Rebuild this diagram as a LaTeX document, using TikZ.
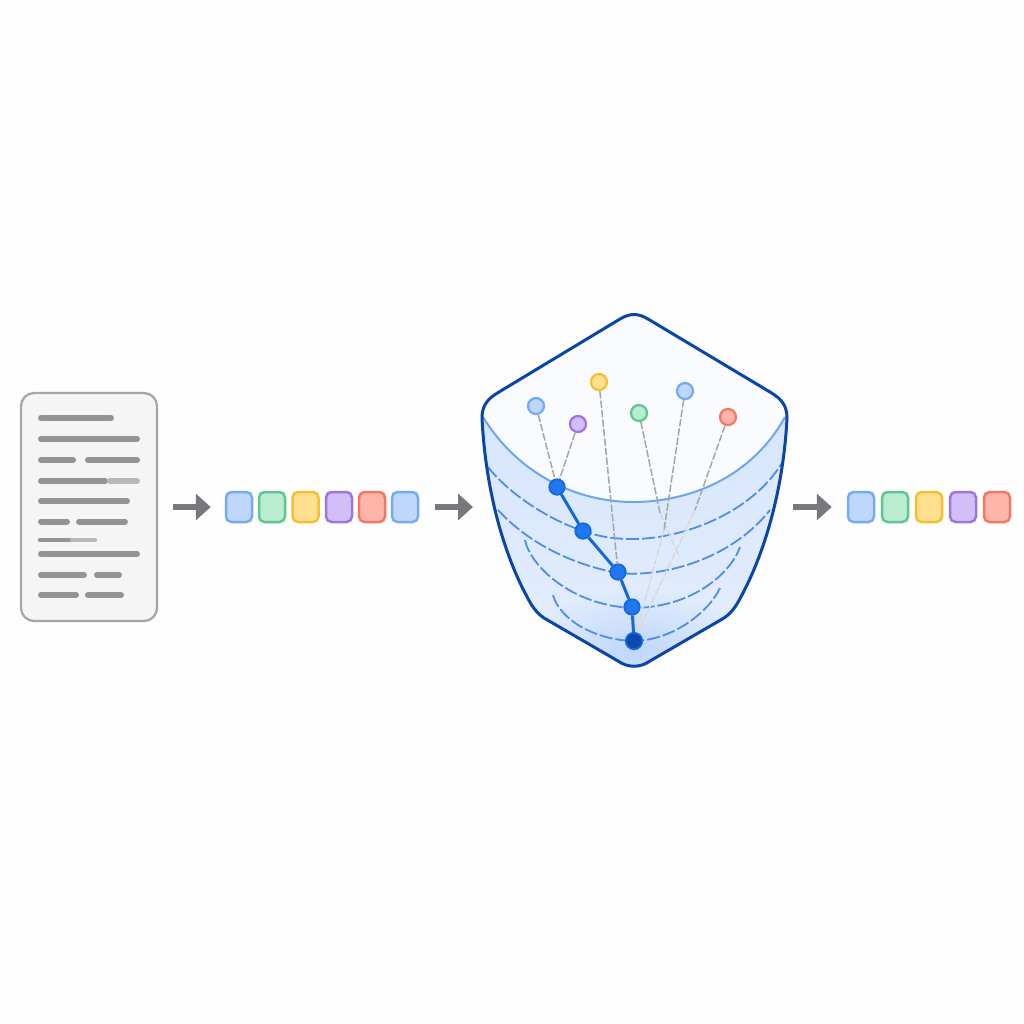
\documentclass[tikz,border=0pt]{standalone}
\usepackage{tikz}
\usetikzlibrary{arrows.meta, fadings}

\definecolor{tblue}{HTML}{BFD7FB}
\definecolor{tblueline}{HTML}{74ABF6}
\definecolor{tgreen}{HTML}{B9ECD1}
\definecolor{tgreenline}{HTML}{5CC78E}
\definecolor{tyellow}{HTML}{FFE08F}
\definecolor{tyellowline}{HTML}{F5BF30}
\definecolor{tpurple}{HTML}{D3BFF7}
\definecolor{tpurpleline}{HTML}{9C74E3}
\definecolor{tred}{HTML}{FFB5AA}
\definecolor{tredline}{HTML}{F47763}
\definecolor{rimblue}{HTML}{6EA6EE}
\definecolor{ringblue}{HTML}{4F8DE6}
\definecolor{outline}{HTML}{0B45A8}
\definecolor{chain}{HTML}{1467DC}
\definecolor{hubblue}{HTML}{1F78F0}
\definecolor{arrowgray}{HTML}{77777D}
\definecolor{paper}{HTML}{FEFEFE}
\definecolor{hollow}{HTML}{F9FBFF}

\tikzfading[name=softglow, inner color=transparent!0, outer color=transparent!100]

\begin{document}
\begin{tikzpicture}[
    x=0.2mm, y=-0.2mm,
    >=Stealth,
    % Token styles
    token/.style={rectangle, rounded corners=1.1mm, line width=0.5mm, minimum width=5.2mm, minimum height=6mm, inner sep=0pt},
    % Point styles
    point/.style={circle, line width=0.45mm, minimum size=3.2mm, inner sep=0pt},
    hub/.style={circle, fill=#1, draw=chain, line width=0.35mm, minimum size=3.1mm, inner sep=0pt},
    % Connector styles
    flow/.style={-{Triangle[length=3mm, width=5.2mm]}, line width=1.2mm, draw=arrowgray},
    link/.style={dash pattern=on 1.5mm off 0.4mm, line width=0.3mm, gray!70},
    fadelink/.style={link, gray!30},
    ring/.style={ringblue, line width=0.36mm, dash pattern=on 2.6mm off 0.6mm},
    % Document styles
    page/.style={rectangle, rounded corners=2.6mm, fill=black!4, draw=black!35, line width=0.45mm, minimum width=27.2mm, minimum height=45.6mm},
    textbar/.style={line width=1.2mm, line cap=round, black!42},
    softbar/.style={textbar, black!28}
]

    \useasboundingbox (0,0) rectangle (1024,1024);
    \fill[paper] (0,0) rectangle (1024,1024);

    % === DOCUMENT ===
    \node[page] (doc) at (89,507) {};
    \foreach \xa/\xb/\yy in {41/111/418, 41/137/439, 41/73/460, 88/137/460, 41/105/481,
                             41/127/501, 41/67/521.5, 79/125/521.5, 41/137/554,
                             41/84/575, 97/119/575, 41/76/595, 88/121/595} {
        \draw[textbar] (\xa,\yy) -- (\xb,\yy);
    }
    \draw[softbar] (110,481) -- (137,481);
    \draw[textbar, line width=0.9mm] (40,540) -- (72,540);
    \draw[softbar, line width=0.9mm] (72,540) -- (95,540);

    % === INPUT TOKENS ===
    \foreach \n/\x/\f/\e in {a1/239/tblue/tblueline, a2/272/tgreen/tgreenline, a3/305.5/tyellow/tyellowline,
                             a4/339/tpurple/tpurpleline, a5/372/tred/tredline, a6/405/tblue/tblueline} {
        \node[token, fill=\f, draw=\e] (\n) at (\x,507) {};
    }

    % === VESSEL ===
    \def\vessel{(620,319) .. controls (630,313) and (638,313) .. (648,319)
        -- (770,392) .. controls (782,399) and (787,406) .. (787,418)
        .. controls (784,480) and (768,550) .. (737,604)
        .. controls (733,610) and (730,614) .. (724,618)
        -- (650,661) .. controls (640,668) and (628,668) .. (618,661)
        -- (544,618) .. controls (538,614) and (535,610) .. (531,604)
        .. controls (500,550) and (485,480) .. (482,418)
        .. controls (482,406) and (487,399) .. (499,392) -- cycle}
    \def\rim{(483,417) .. controls (520,477) and (580,502) .. (633,502)
        .. controls (690,502) and (752,477) .. (785,417)}

    \begin{scope}
        \clip \vessel;
        \fill[hollow] (470,310) rectangle (800,500);
        \clip \rim -- (800,417) -- (800,680) -- (470,680) -- (470,417) -- cycle;
        \fill[top color=tblue!62!white, bottom color=tblue!42!white] (470,417) rectangle (800,670);
        \fill[tblue, path fading=softglow] (634,650) ellipse (110 and 60);
    \end{scope}

    % Rings
    \draw[ring] (488,467) .. controls (510,495) and (550,520) .. (583,531)
        .. controls (600,537) and (615,539) .. (633,539)
        .. controls (680,539) and (750,515) .. (782,463);
    \draw[ring] (498,510) .. controls (530,545) and (575,565) .. (618,573)
        .. controls (670,578) and (735,555) .. (770,510);
    \draw[ring] (525,540) .. controls (530,565) and (570,605) .. (632,608)
        .. controls (690,608) and (730,575) .. (740,547);
    \draw[ring] (553,595) .. controls (560,620) and (595,640) .. (634,641)
        .. controls (675,640) and (710,610) .. (720,588);
    \draw[rimblue, line width=0.4mm] \rim;

    % Outline
    \draw[outline, line width=0.6mm, line join=round] \vessel;

    % === HUB POINTS ===
    \node[hub=hubblue] (h1) at (557,487) {};
    \node[hub=hubblue] (h2) at (583,531) {};
    \node[hub=hubblue] (h3) at (618,572) {};
    \node[hub=hubblue] (h4) at (632,607) {};
    \node[hub=outline!85!chain, minimum size=3.3mm] (h5) at (634,641) {};

    % === FREE POINTS ===
    \node[point, fill=tblue, draw=tblueline] (p1) at (536,406) {};
    \node[point, fill=tpurple, draw=tpurpleline] (p2) at (578,424) {};
    \node[point, fill=tyellow, draw=tyellowline] (p3) at (599,382) {};
    \node[point, fill=tgreen, draw=tgreenline] (p4) at (639,413) {};
    \node[point, fill=tblue, draw=tblueline] (p5) at (685,391) {};
    \node[point, fill=tred, draw=tredline] (p6) at (728,417) {};

    % Free ends of the fading links
    \coordinate (g1) at (660,513);
    \coordinate (g2) at (680,558);
    \coordinate (b1) at (664,530);
    \coordinate (r1) at (695,510);

    % Links
    \draw[link] (p1) -- (h1);
    \draw[link] (p2) -- (h1);
    \draw[link] (p3) -- (h3);
    \draw[link] (p4) -- (g1);
    \draw[fadelink] (g1) -- (g2);
    \draw[link] (p5) -- (b1);
    \draw[fadelink] (b1) -- (h5);
    \draw[link] (p6) -- (r1);
    \draw[fadelink] (r1) -- (h5);

    % Chain
    \draw[chain, line width=0.6mm] (h1) -- (h2);
    \draw[chain, line width=0.6mm] (h2) -- (h3);
    \draw[chain, line width=0.6mm] (h3) -- (h4);
    \draw[chain, line width=0.6mm] (h4) -- (h5);

    % === OUTPUT TOKENS ===
    \foreach \n/\x/\f/\e in {c1/861/tblue/tblueline, c2/895/tgreen/tgreenline, c3/929/tyellow/tyellowline,
                             c4/963/tpurple/tpurpleline, c5/997/tred/tredline} {
        \node[token, fill=\f, draw=\e] (\n) at (\x,507) {};
    }

    % === ARROWS ===
    \coordinate (vw) at (482,507);
    \coordinate (ve) at (787,507);
    \draw[flow, shorten <=3mm, shorten >=2.8mm] (doc) -- (a1);
    \draw[flow, shorten <=3.2mm, shorten >=1.8mm] (a6) -- (vw);
    \draw[flow, shorten <=1.2mm, shorten >=3mm] (ve) -- (c1);

\end{tikzpicture}
\end{document}
